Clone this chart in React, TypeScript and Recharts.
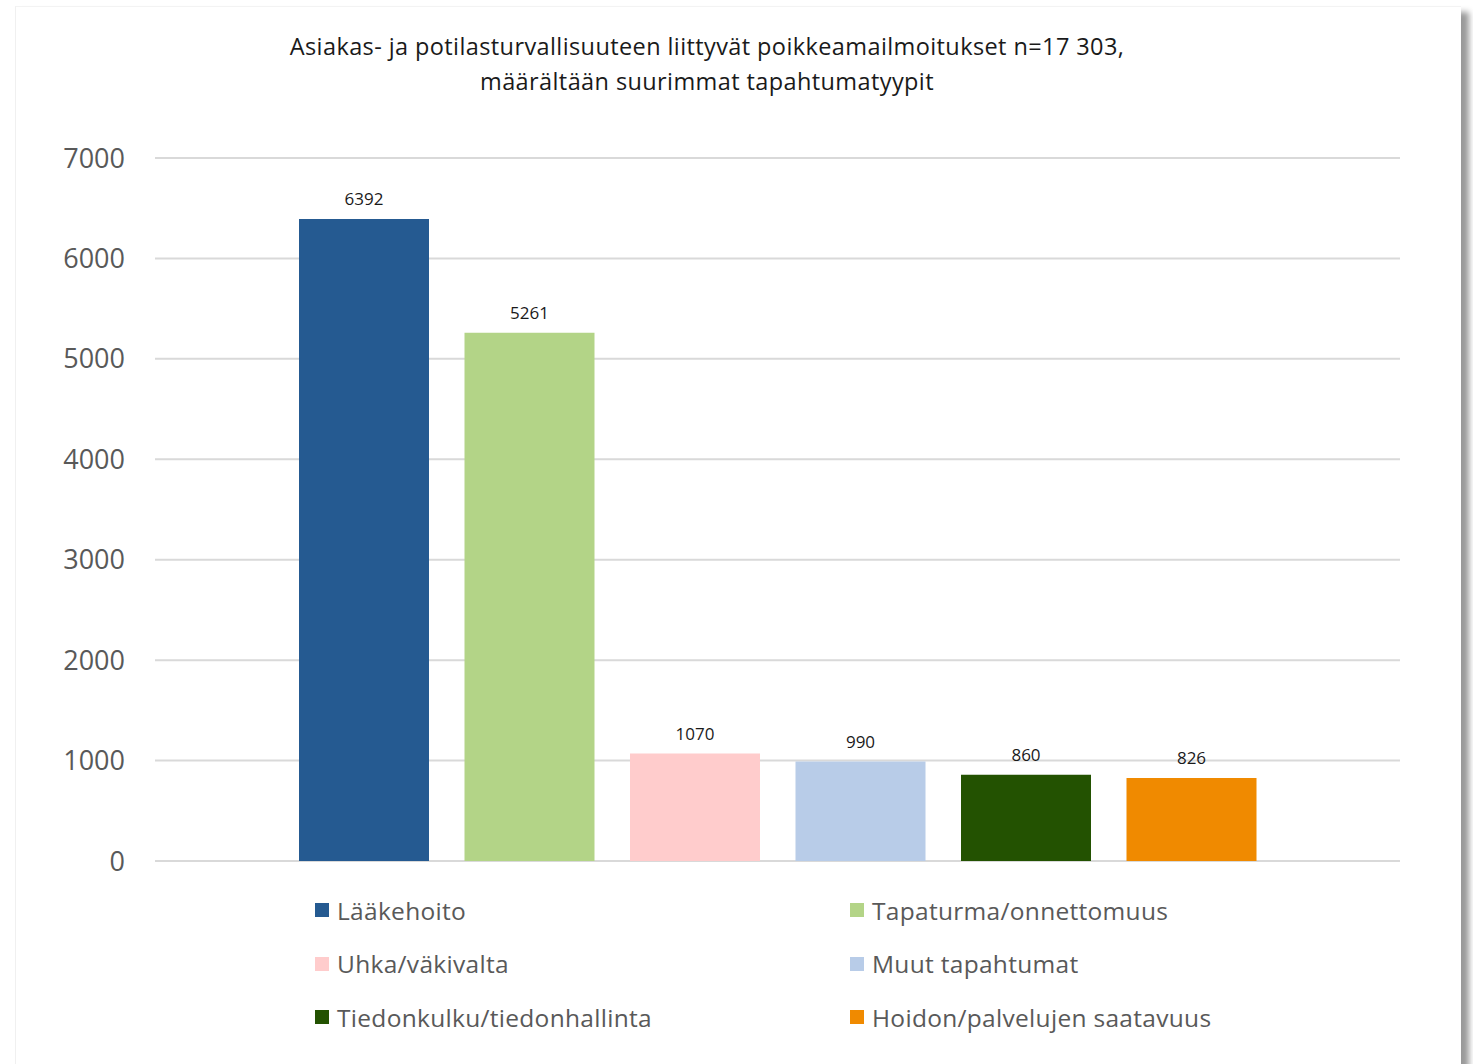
import { BarChart, Bar, XAxis, YAxis, CartesianGrid, LabelList } from "recharts";

const seriesNames = [
  "Lääkehoito",
  "Tapaturma/onnettomuus",
  "Uhka/väkivalta",
  "Muut tapahtumat",
  "Tiedonkulku/tiedonhallinta",
  "Hoidon/palvelujen saatavuus",
];
const seriesValues = [6392, 5261, 1070, 990, 860, 826];
const seriesColors = ["#255A91", "#B3D487", "#FFCCCC", "#B8CCE8", "#235201", "#F08A00"];
const yTicks = [0, 1000, 2000, 3000, 4000, 5000, 6000, 7000];
const titleLines = [
  "Asiakas- ja potilasturvallisuuteen liittyvät poikkeamailmoitukset n=17 303,",
  "määrältään suurimmat tapahtumatyypit",
];

const keys = seriesNames.map((_, i) => "s" + i);
const row: Record<string, string | number> = { name: "" };
keys.forEach((k, i) => {
  row[k] = seriesValues[i];
});
const data = [row];

const font = "'Open Sans', 'Noto Sans', sans-serif";

export default function App() {
  return (
    <div
      style={{
        position: "absolute",
        left: 0,
        top: 0,
        width: 1473,
        height: 1064,
        background: "#fff",
        overflow: "hidden",
        fontFamily: font,
      }}
    >
      <div
        style={{
          position: "absolute",
          left: 15,
          top: 6,
          width: 1445,
          height: 1100,
          borderLeft: "1px solid #f0f0f0",
          borderTop: "1px solid #f3f3f3",
          boxShadow: "8px 6px 6px rgba(0,0,0,0.4)",
          background: "#fff",
        }}
      />
      <div
        style={{
          position: "absolute",
          left: 0,
          top: 29,
          width: 1414,
          textAlign: "center",
          fontSize: 23.5,
          letterSpacing: 0.4,
          lineHeight: "35px",
          color: "#1a1a1a",
        }}
      >
        {titleLines.map((t) => (
          <div key={t}>{t}</div>
        ))}
      </div>
      <div style={{ position: "absolute", left: 0, top: 0 }}>
        <BarChart
          width={1473}
          height={1064}
          data={data}
          margin={{ top: 158, right: 73, bottom: 203, left: 0 }}
          barSize={130}
          barGap={35.5}
        >
          <CartesianGrid vertical={false} stroke="#d9d9d9" strokeWidth={2} />
          <XAxis dataKey="name" hide />
          <YAxis
            width={155}
            domain={[0, 7000]}
            ticks={yTicks}
            axisLine={false}
            tickLine={false}
            tickSize={0}
            tickMargin={30}
            tick={{ fill: "#595959", fontSize: 27, fontFamily: font }}
          />
          {keys.map((k, i) => (
            <Bar key={k} dataKey={k} fill={seriesColors[i]} isAnimationActive={false}>
              <LabelList
                dataKey={k}
                position="top"
                offset={14}
                fill="#1a1a1a"
                fontSize={17}
                fontFamily={font}
              />
            </Bar>
          ))}
        </BarChart>
      </div>
      <div
        style={{
          position: "absolute",
          left: 315,
          top: 892,
          display: "grid",
          gridTemplateColumns: "535px 420px",
          rowGap: 17.5,
          fontSize: 24.5,
          letterSpacing: 0.3,
          color: "#595959",
        }}
      >
        {seriesNames.map((n, i) => (
          <div key={n} style={{ display: "flex", alignItems: "center", height: 36 }}>
            <span
              style={{
                display: "inline-block",
                width: 14,
                height: 14,
                background: seriesColors[i],
                marginRight: 8,
              }}
            />
            <span>{n}</span>
          </div>
        ))}
      </div>
    </div>
  );
}
